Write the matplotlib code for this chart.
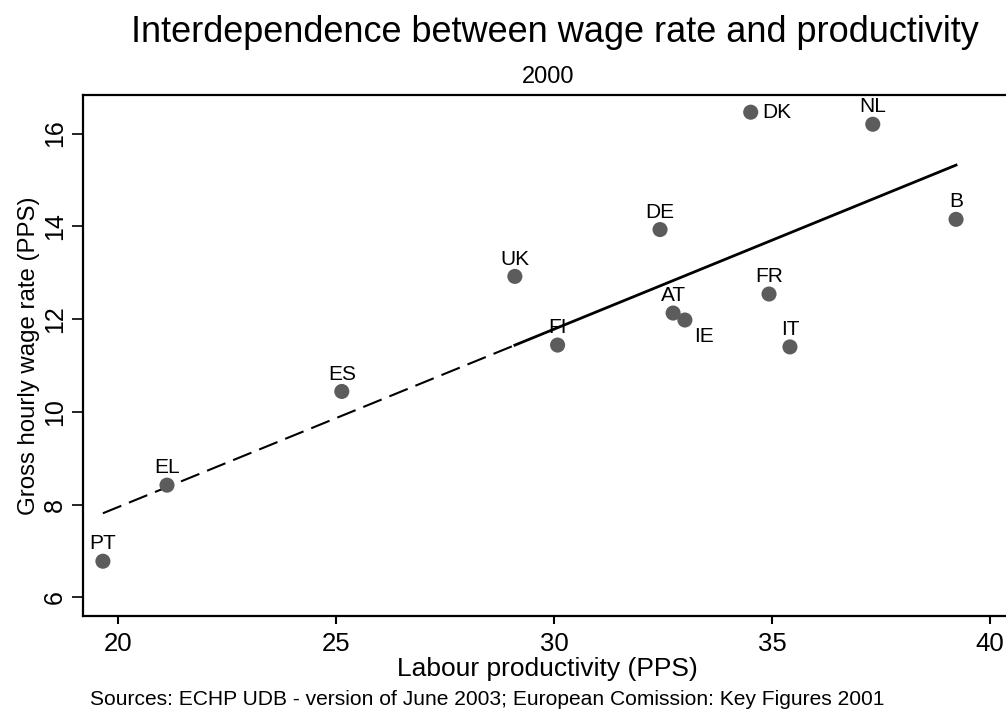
import numpy as np
import matplotlib
matplotlib.use("Agg")
import matplotlib.pyplot as plt

# Labour productivity vs gross hourly wage rate, EU member states, 2000 (PPS)
countries = ["PT", "EL", "ES", "FI", "UK", "DE", "AT", "IE", "DK", "FR", "IT", "NL", "B"]
productivity = [19.65, 21.12, 25.13, 30.08, 29.10, 32.43, 32.73, 33.00, 34.51, 34.93, 35.41, 37.31, 39.22]
wage_rate = [6.78, 8.42, 10.44, 11.44, 12.92, 13.93, 12.13, 11.98, 16.46, 12.54, 11.40, 16.20, 14.15]

x_ticks = [20, 25, 30, 35, 40]
y_ticks = [6, 8, 10, 12, 14, 16]

FONT = ["Liberation Sans", "DejaVu Sans"]

# label placement (offset in points, alignment)
label_pos = {
    "DK": ((8, 0), "left", "center"),
    "IE": ((14, -12), "center", "center"),
}
default_pos = ((0, 12.5), "center", "center")

fig = plt.figure(figsize=(10.06, 7.15), dpi=100)
ax = fig.add_axes([0.0828, 0.1385, 0.923, 0.7286])

x = np.array(productivity)
y = np.array(wage_rate)

# least-squares fitted line
slope, intercept = np.polyfit(x, y, 1)
order = np.argsort(x)
xs = x[order]
fit = slope * xs + intercept
split = np.searchsorted(xs, x[countries.index("UK")])
ax.plot(xs[:split + 1], fit[:split + 1], color="black", lw=1.5,
        dashes=(9.5, 4), zorder=2, solid_capstyle="butt")
ax.plot(xs[split:], fit[split:], color="black", lw=2.0, zorder=2)

ax.scatter(x, y, s=118, color="#5c5c5c", edgecolors="none", zorder=3)

for name, xi, yi in zip(countries, x, y):
    off, ha, va = label_pos.get(name, default_pos)
    ax.annotate(name, (xi, yi), xytext=off, textcoords="offset points",
                ha=ha, va=va, fontsize=15, family=FONT, color="black")

ax.set_xlim(19.20, 40.50)
ax.set_ylim(5.60, 16.83)
ax.set_xticks(x_ticks)
ax.set_yticks(y_ticks)
ax.set_xticklabels([str(t) for t in x_ticks], family=FONT, fontsize=18.5)
ax.set_yticklabels([str(t) for t in y_ticks], family=FONT, fontsize=18,
                   rotation=90, va="center")
ax.tick_params(axis="x", length=6, width=1.5, pad=5.5)
ax.tick_params(axis="y", length=8, width=1.2, pad=4)
for side in ["left", "bottom", "top", "right"]:
    ax.spines[side].set_linewidth(1.6)

ax.set_xlabel("Labour productivity (PPS)", family=FONT, fontsize=19, labelpad=1)
ax.set_ylabel("Gross hourly wage rate (PPS)", family=FONT, fontsize=17.3, labelpad=2)

fig.text(0.552, 0.954, "Interdependence between wage rate and productivity",
         ha="center", va="center", family=FONT, fontsize=26)
fig.text(0.545, 0.892, "2000", ha="center", va="center", family=FONT, fontsize=17)
fig.text(0.484, 0.021,
         "Sources: ECHP UDB - version of June 2003; European Comission: Key Figures 2001",
         ha="center", va="center", family=FONT, fontsize=15.1)

fig.savefig("out.png", dpi=100)
